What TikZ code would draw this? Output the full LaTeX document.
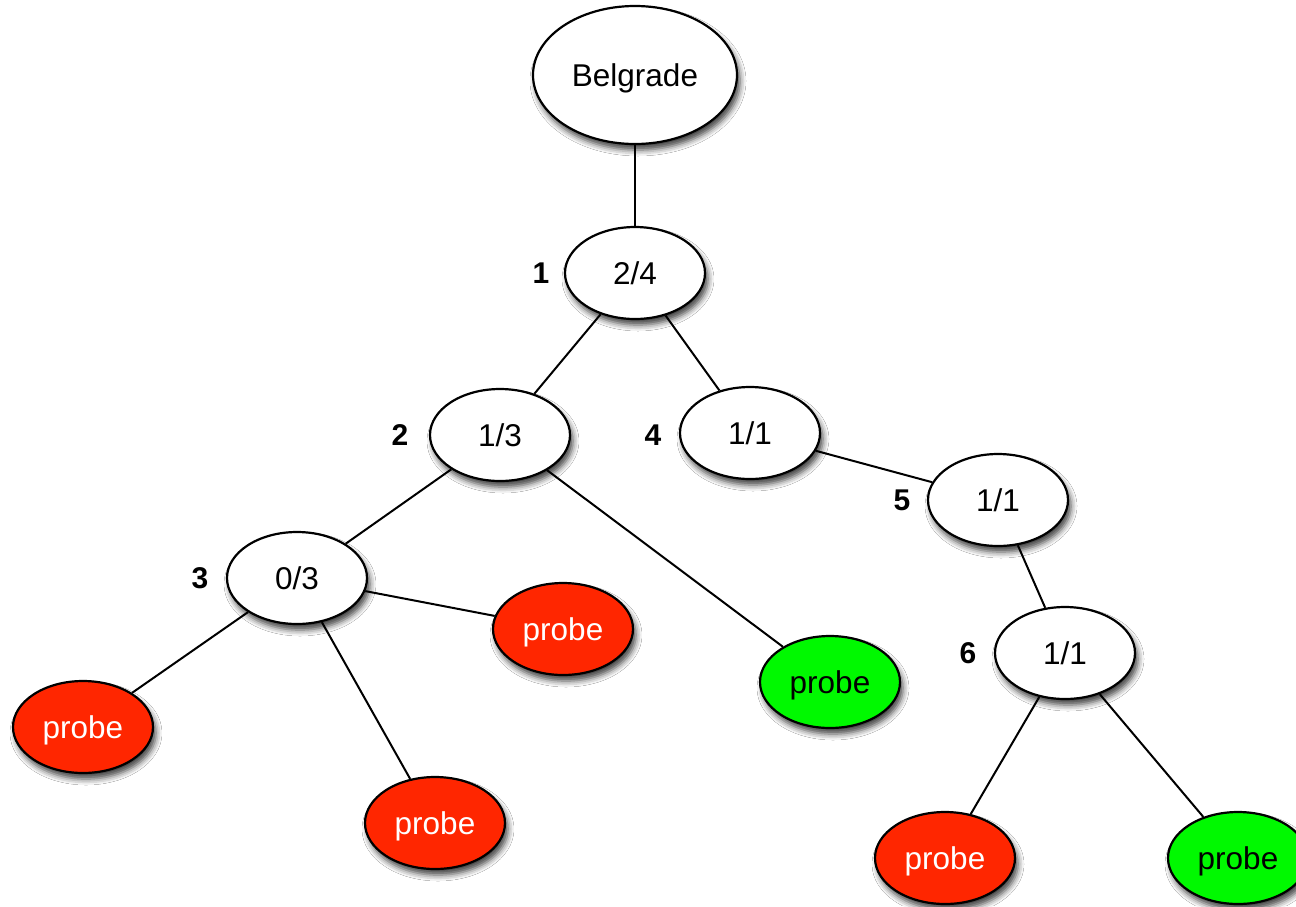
\documentclass[tikz,border=0pt]{standalone}
\usepackage{fontspec}
\setmainfont{Liberation Sans}
\usetikzlibrary{shapes.geometric,shadows.blur}
\definecolor{probered}{RGB}{255,38,0}
\definecolor{probegreen}{RGB}{0,249,0}
\tikzset{
  base/.style={ellipse, draw=black, line width=2.2pt, inner sep=0pt, text depth=0pt,
    font=\fontsize{31.5}{36}\selectfont,
    blur shadow={shadow xshift=3pt, shadow yshift=-6pt, shadow blur radius=6pt, shadow opacity=75}},
  city/.style={base, fill=white, minimum width=204pt, minimum height=138pt},
  tnode/.style={base, fill=white, minimum width=140pt, minimum height=92pt},
  redprobe/.style={base, fill=probered, text=white, minimum width=140pt, minimum height=92pt},
  greenprobe/.style={base, fill=probegreen, text=black, minimum width=140pt, minimum height=92pt},
  num/.style={font=\fontsize{30}{34}\selectfont\bfseries, inner sep=0pt},
  edge/.style={line width=2pt, black}
}
\begin{document}
\begin{tikzpicture}[x=1pt, y=-1pt]
\clip (0,0) rectangle (1296,906);
\fill[white] (0,0) rectangle (1296,906);
\node[city] (bel) at (635,75) {Belgrade};
\node[tnode] (n1) at (635,273) {2/4};
\node[tnode] (n2) at (500,435) {1/3};
\node[tnode] (n4) at (750,433) {1/1};
\node[tnode] (n5) at (998,500) {1/1};
\node[tnode] (n3) at (297,578) {0/3};
\node[tnode] (n6) at (1065,653) {1/1};
\node[redprobe] (p1) at (83,727) {probe};
\node[redprobe] (p2) at (435,823) {probe};
\node[redprobe] (p3) at (563,629) {probe};
\node[greenprobe] (p4) at (830,682) {probe};
\node[redprobe] (p5) at (945,858) {probe};
\node[greenprobe] (p6) at (1238,858) {probe};
\node[num] (l1) at (541,273) {1};
\node[num] (l2) at (400,435) {2};
\node[num] (l4) at (653,435) {4};
\node[num] (l5) at (902,500) {5};
\node[num] (l3) at (200,578) {3};
\node[num] (l6) at (968,653) {6};
\draw[edge] (bel) -- (n1);
\draw[edge] (n1) -- (n2);
\draw[edge] (n1) -- (n4);
\draw[edge] (n2) -- (n3);
\draw[edge] (n2) -- (p4);
\draw[edge] (n4) -- (n5);
\draw[edge] (n5) -- (n6);
\draw[edge] (n3) -- (p1);
\draw[edge] (n3) -- (p2);
\draw[edge] (n3) -- (p3);
\draw[edge] (n6) -- (p5);
\draw[edge] (n6) -- (p6);
\end{tikzpicture}
\end{document}
